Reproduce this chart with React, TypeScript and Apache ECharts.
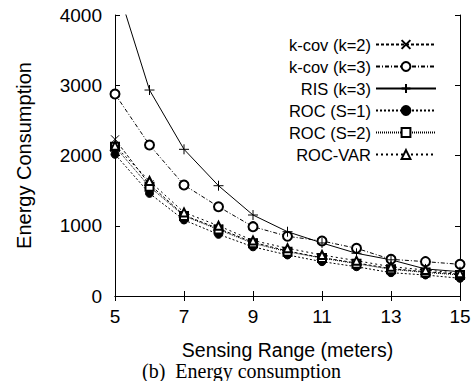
import React, { useEffect, useRef } from "react";
import * as echarts from "echarts";

const ranges = ["5", "6", "7", "8", "9", "10", "11", "12", "13", "14", "15"];
const kcov2 = [2230, 1590, 1150, 960, 765, 640, 545, 470, 390, 345, 310];
const kcov3 = [2875, 2150, 1580, 1271, 987, 850, 783, 679, 522, 489, 451];
const ris3 = [4500, 2932, 2088, 1570, 1153, 915, 755, 608, 515, 385, 346];
const rocS1 = [2017, 1461, 1082, 878, 700, 584, 489, 417, 332, 299, 252];
const rocS2 = [2125, 1556, 1140, 945, 750, 630, 540, 460, 380, 335, 300];
const rocVar = [2140, 1637, 1190, 1000, 790, 680, 584, 503, 417, 370, 323];
const yTicks = [0, 1000, 2000, 3000, 4000];

const CROSS = "path://M0,0L10,10M10,0L0,10";
const PLUS = "path://M5,0L5,10M0,5L10,5";

const FONT = "Liberation Sans, Arial, sans-serif";

export default function App() {
  const ref = useRef<HTMLDivElement>(null);
  useEffect(() => {
    document.body.style.margin = "0";
    if (!ref.current) return;
    const chart = echarts.init(ref.current, undefined, { renderer: "svg" });
    const mk = (name: string, data: number[], symbol: string, size: number, dash: any) => ({
      name,
      type: "line",
      data,
      symbol,
      symbolSize: size,
      showAllSymbol: true,
      clip: true,
      lineStyle: { color: "#000", width: 1, type: dash },
      itemStyle: { color: "#000", borderColor: "#000", borderWidth: 1 },
      emphasis: { disabled: true },
    });
    chart.setOption({
      animation: false,
      backgroundColor: "#fff",
      textStyle: { fontFamily: FONT },
      grid: { left: 115, right: 14, top: 15, bottom: 85, show: false },
      legend: {
        orient: "vertical",
        right: 32,
        top: 31,
        align: "right",
        itemWidth: 60,
        itemHeight: 11,
        itemGap: 5,
        textStyle: { fontFamily: FONT, fontSize: 16.5, color: "#000", padding: [0, 0, 0, 0] },
        data: ["k-cov (k=2)", "k-cov (k=3)", "RIS (k=3)", "ROC (S=1)", "ROC (S=2)", "ROC-VAR"],
      },
      xAxis: [
        {
          type: "category",
          data: ranges,
          boundaryGap: false,
          name: "Sensing Range (meters)",
          nameLocation: "middle",
          nameGap: 44,
          nameTextStyle: { fontFamily: FONT, fontSize: 19.5, color: "#000" },
          axisLine: { show: true, lineStyle: { color: "#000", width: 1 } },
          axisTick: { show: true, inside: true, length: 5, interval: 1, lineStyle: { color: "#000" } },
          axisLabel: { interval: 1, margin: 11, fontFamily: FONT, fontSize: 19, color: "#000", showMaxLabel: true },
          splitLine: { show: false },
        },
        {
          type: "category",
          data: ranges,
          boundaryGap: false,
          position: "top",
          axisLine: { show: true, lineStyle: { color: "#000", width: 1 } },
          axisTick: { show: true, inside: true, length: 5, interval: 1, lineStyle: { color: "#000" } },
          axisLabel: { show: false },
          splitLine: { show: false },
        },
      ],
      yAxis: [
        {
          type: "value",
          min: yTicks[0],
          max: yTicks[yTicks.length - 1],
          interval: 1000,
          name: "Energy Consumption",
          nameLocation: "middle",
          nameGap: 81,
          nameTextStyle: { fontFamily: FONT, fontSize: 20, color: "#000" },
          axisLine: { show: true, lineStyle: { color: "#000", width: 1 } },
          axisTick: { show: true, inside: true, length: 5, lineStyle: { color: "#000" } },
          axisLabel: {
            margin: 13,
            fontFamily: FONT,
            fontSize: 19,
            color: "#000",
            formatter: (v: number) => String(v),
          },
          splitLine: { show: false },
        },
        {
          type: "value",
          min: yTicks[0],
          max: yTicks[yTicks.length - 1],
          interval: 1000,
          position: "right",
          axisLine: { show: true, lineStyle: { color: "#000", width: 1 } },
          axisTick: { show: true, inside: true, length: 5, lineStyle: { color: "#000" } },
          axisLabel: { show: false },
          splitLine: { show: false },
        },
      ],
      series: [
        mk("k-cov (k=2)", kcov2, CROSS, 8, [3, 2]),
        mk("k-cov (k=3)", kcov3, "emptyCircle", 9, [4, 2, 1, 2]),
        mk("RIS (k=3)", ris3, PLUS, 10, "solid"),
        mk("ROC (S=1)", rocS1, "circle", 8, [2, 2]),
        mk("ROC (S=2)", rocS2, "emptyRect", 8, [1, 1]),
        mk("ROC-VAR", rocVar, "emptyTriangle", 8, [2, 3]),
      ],
      graphic: [
        {
          type: "text",
          left: 142,
          top: 361,
          style: {
            text: "(b)  Energy consumption",
            font: '20px "Liberation Serif", "Times New Roman", serif',
            fill: "#000",
          },
        },
      ],
    });
    return () => chart.dispose();
  }, []);
  return <div ref={ref} style={{ width: 474, height: 381 }} />;
}
